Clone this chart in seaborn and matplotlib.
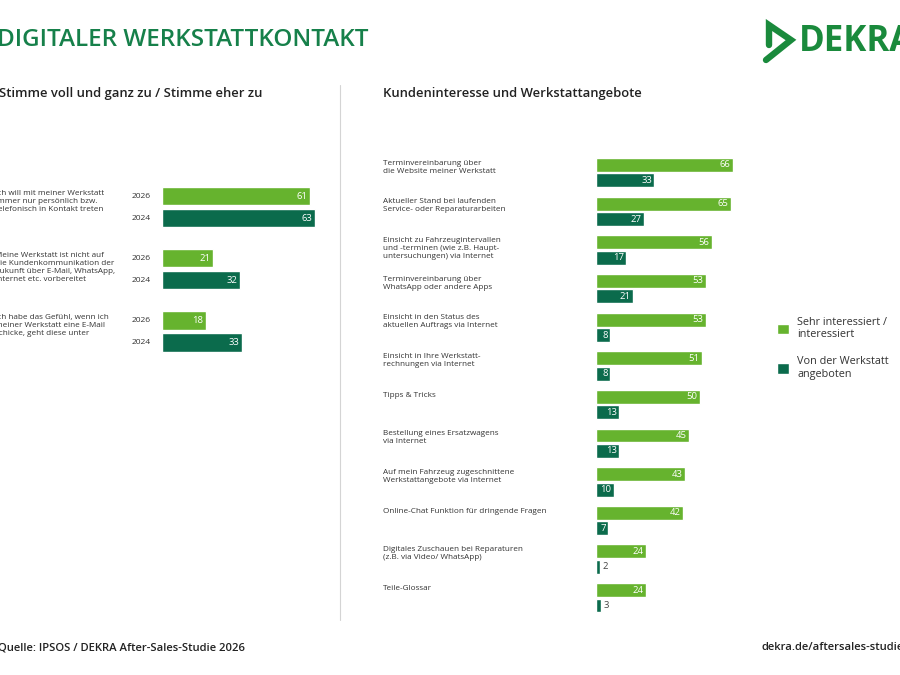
import matplotlib.pyplot as plt
import pandas as pd
import seaborn as sns
from matplotlib.lines import Line2D
from matplotlib.patches import Patch

# Farben
HELLGRUEN = "#66b32e"
DUNKELGRUEN = "#0b6b4c"
TITELGRUEN = "#16804a"
LOGOGRUEN = "#1a8a3c"
TEXTFARBE = "#333333"

# Linke Seite: Zustimmung nach Jahr
aussagen = [
    "Ich will mit meiner Werkstatt\nimmer nur persönlich bzw.\ntelefonisch in Kontakt treten",
    "Meine Werkstatt ist nicht auf\ndie Kundenkommunikation der\nZukunft über E-Mail, WhatsApp,\nInternet etc. vorbereitet",
    "Ich habe das Gefühl, wenn ich\nmeiner Werkstatt eine E-Mail\nschicke, geht diese unter",
]
jahre = ["2026", "2024"]
werte_2026 = [61, 21, 18]
werte_2024 = [63, 32, 33]

# Rechte Seite: Kundeninteresse und Werkstattangebote
angebote = [
    "Terminvereinbarung über\ndie Website meiner Werkstatt",
    "Aktueller Stand bei laufenden\nService- oder Reparaturarbeiten",
    "Einsicht zu Fahrzeugintervallen\nund -terminen (wie z.B. Haupt-\nuntersuchungen) via Internet",
    "Terminvereinbarung über\nWhatsApp oder andere Apps",
    "Einsicht in den Status des\naktuellen Auftrags via Internet",
    "Einsicht in Ihre Werkstatt-\nrechnungen via Internet",
    "Tipps & Tricks",
    "Bestellung eines Ersatzwagens\nvia Internet",
    "Auf mein Fahrzeug zugeschnittene\nWerkstattangebote via Internet",
    "Online-Chat Funktion für dringende Fragen",
    "Digitales Zuschauen bei Reparaturen\n(z.B. via Video/ WhatsApp)",
    "Teile-Glossar",
]
serien = ["Sehr interessiert /\ninteressiert", "Von der Werkstatt\nangeboten"]
interesse = [66, 65, 56, 53, 53, 51, 50, 45, 43, 42, 24, 24]
angeboten = [33, 27, 17, 21, 8, 8, 13, 13, 10, 7, 2, 3]

sns.set_theme(style="white")
plt.rcParams["font.family"] = ["Open Sans", "Noto Sans", "DejaVu Sans"]

fig = plt.figure(figsize=(9, 6.75), dpi=100)


def rect(x0, y0, x1, y1):
    """Pixel-Box (von oben gemessen) -> Figure-Fraction"""
    return [x0 / 900, 1 - y1 / 675, (x1 - x0) / 900, (y1 - y0) / 675]


def werte_beschriften(ax, breite_px, grenze_px=11):
    xmax = ax.get_xlim()[1]
    for container in ax.containers:
        for bar in container:
            wert = bar.get_width()
            if not bar.get_visible() or pd.isna(wert) or wert == 0:
                continue
            y = bar.get_y() + bar.get_height() / 2
            if wert / xmax * breite_px > grenze_px:
                ax.annotate(f"{wert:.0f}", xy=(wert, y), xytext=(-1.8, 0),
                            textcoords="offset points", ha="right", va="center",
                            color="white", fontsize=6.8)
            else:
                ax.annotate(f"{wert:.0f}", xy=(wert, y), xytext=(1.8, 0),
                            textcoords="offset points", ha="left", va="center",
                            color="#444444", fontsize=6.8)


# ---- linke Grafik ----
df_links = pd.DataFrame({
    "aussage": aussagen * 2,
    "jahr": [jahre[0]] * len(aussagen) + [jahre[1]] * len(aussagen),
    "wert": werte_2026 + werte_2024,
})
ax_l = fig.add_axes(rect(162, 175.9, 362, 362.6))
sns.barplot(data=df_links, y="aussage", x="wert", hue="jahr", hue_order=jahre,
            order=aussagen, palette=[HELLGRUEN, DUNKELGRUEN], orient="h",
            width=0.707, gap=0.18, saturation=1, legend=False, ax=ax_l)
ax_l.set_xlim(0, 200 / 2.43)
ax_l.set_ylim(len(aussagen) - 0.5, -0.5)
ax_l.axis("off")
werte_beschriften(ax_l, 200)

for container, jahr in zip(ax_l.containers, jahre):
    for bar in container:
        ax_l.annotate(jahr, xy=(0, bar.get_y() + bar.get_height() / 2), xytext=(-8, 0),
                      textcoords="offset points", ha="right", va="center",
                      fontsize=6.1, color=TEXTFARBE, annotation_clip=False)

for i, text in enumerate(aussagen):
    ax_l.annotate(text, xy=(-5, i), xycoords=("figure pixels", "data"),
                  xytext=(0, 12.4), textcoords="offset points", ha="left", va="top",
                  fontsize=5.9, linespacing=1.2, color=TEXTFARBE, annotation_clip=False)

# ---- rechte Grafik ----
df_rechts = pd.DataFrame({
    "angebot": angebote * 2,
    "serie": [serien[0]] * len(angebote) + [serien[1]] * len(angebote),
    "wert": interesse + angeboten,
})
# die dunklen Balken sind im Original enger skaliert -> zweite Achse darueber
ax_r = fig.add_axes(rect(596, 153.4, 796, 617.1))
ax_r2 = fig.add_axes(rect(596, 153.4, 796, 617.1))
for idx, (ax, xmax) in enumerate([(ax_r, 200 / 2.07), (ax_r2, 200 / 1.77)]):
    sns.barplot(data=df_rechts, y="angebot", x="wert", hue="serie", hue_order=serien,
                order=angebote, palette=[HELLGRUEN, DUNKELGRUEN], orient="h",
                width=0.80, gap=0.1, saturation=1, legend=False, ax=ax)
    # nur die eigene Serie zeigen
    for bar in ax.containers[1 - idx]:
        bar.set_visible(False)
    ax.set_xlim(0, xmax)
    ax.set_ylim(len(angebote) - 0.5, -0.5)
    ax.axis("off")
    werte_beschriften(ax, 200)

for i, text in enumerate(angebote):
    ax_r.annotate(text, xy=(383, i), xycoords=("figure pixels", "data"),
                  xytext=(0, 9.3), textcoords="offset points", ha="left", va="top",
                  fontsize=5.9, linespacing=1.2, color=TEXTFARBE, annotation_clip=False)

fig.legend(handles=[Patch(facecolor=HELLGRUEN), Patch(facecolor=DUNKELGRUEN)],
           labels=serien, loc="upper left", bbox_to_anchor=(767 / 900, 1 - 307 / 675),
           frameon=False, fontsize=7.8, handlelength=1.15, handleheight=1.15,
           handletextpad=0.75, labelspacing=1.45, labelcolor=TEXTFARBE)

# ---- Kopf, Trennlinie, Fuss ----
fig.text(-3 / 900, 1 - 40 / 675, "DIGITALER WERKSTATTKONTAKT", color=TITELGRUEN,
         fontsize=17.5, fontweight="semibold", va="center", ha="left")
fig.text(-1 / 900, 1 - 93 / 675, "Stimme voll und ganz zu / Stimme eher zu",
         fontsize=9.4, fontweight="semibold", va="center", color="#222222")
fig.text(383 / 900, 1 - 93 / 675, "Kundeninteresse und Werkstattangebote",
         fontsize=9.4, fontweight="semibold", va="center", color="#222222")
fig.add_artist(Line2D([340 / 900, 340 / 900], [1 - 85 / 675, 1 - 620 / 675],
                      color="#d4d4d4", lw=0.8))

fig.text(-2 / 900, 1 - 648 / 675, "Quelle: IPSOS / DEKRA After-Sales-Studie 2026",
         fontsize=8.1, fontweight="semibold", va="center", color="#222222")
fig.text(762 / 900, 1 - 648 / 675, "dekra.de/aftersales-studie",
         fontsize=8.1, fontweight="semibold", va="center", color="#222222")

# Logo
fig.add_artist(Line2D([769 / 900, 769 / 900, 791 / 900, 766 / 900],
                      [1 - 45 / 675, 1 - 25 / 675, 1 - 40 / 675, 1 - 60 / 675],
                      color=LOGOGRUEN, lw=4.6, solid_joinstyle="miter"))
fig.text(799 / 900, 1 - 42 / 675, "DEKRA", color=LOGOGRUEN, fontsize=25,
         fontweight="bold", va="center", ha="left")

fig.savefig("out.png", dpi=100)
